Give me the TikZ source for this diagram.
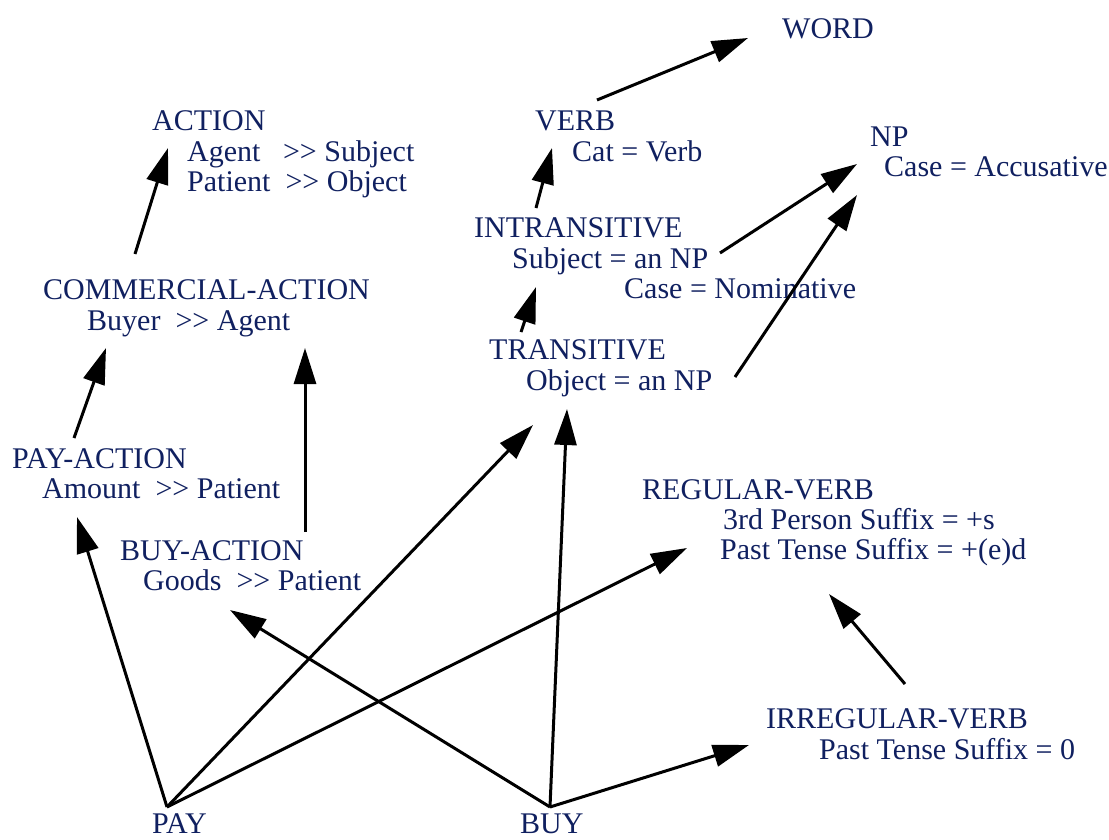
\documentclass[tikz,border=0pt]{standalone}
\usepackage{fontspec}
\setmainfont{Liberation Serif}
\usetikzlibrary{arrows.meta}
\definecolor{navy}{RGB}{16,32,96}
\begin{document}
\begin{tikzpicture}[x=1pt,y=-1pt,
  lbl/.style={anchor=base west,inner sep=0pt,text=navy,font=\fontsize{30}{30.5}\selectfont},
  link/.style={line width=3pt,-{Triangle[length=36pt,width=22pt]}}]
\useasboundingbox (0,0) rectangle (1109,839);
% concept labels
\node[lbl] (word) at (782,38) {WORD};
\node[lbl] (action) at (152,130) {ACTION};
\node[lbl] (action-a1) at (187,161) {Agent\ \ \ >{}> Subject};
\node[lbl] (action-a2) at (187,191) {Patient\ \ >{}> Object};
\node[lbl] (verb) at (535,130) {VERB};
\node[lbl] (verb-a1) at (572,161) {Cat = Verb};
\node[lbl] (np) at (870,146) {NP};
\node[lbl] (np-a1) at (884,176) {Case = Accusative};
\node[lbl] (intr) at (474,237) {INTRANSITIVE};
\node[lbl] (intr-a1) at (512,268) {Subject = an NP};
\node[lbl] (intr-a2) at (624,298) {Case = Nominative};
\node[lbl] (trans) at (489,359) {TRANSITIVE};
\node[lbl] (trans-a1) at (526,390) {Object = an NP};
\node[lbl] (comm) at (43,299) {COMMERCIAL-ACTION};
\node[lbl] (comm-a1) at (87,330) {Buyer\ \ >{}> Agent};
\node[lbl] (paya) at (12,468) {PAY-ACTION};
\node[lbl] (paya-a1) at (42,498) {Amount\ \ >{}> Patient};
\node[lbl] (buya) at (120,560) {BUY-ACTION};
\node[lbl] (buya-a1) at (143,590) {Goods\ \ >{}> Patient};
\node[lbl] (reg) at (642,499) {REGULAR-VERB};
\node[lbl] (reg-a1) at (723,529) {3rd Person Suffix = +s};
\node[lbl] (reg-a2) at (720,559) {Past Tense Suffix = +(e)d};
\node[lbl] (irr) at (766,728) {IRREGULAR-VERB};
\node[lbl] (irr-a1) at (819,759) {Past Tense Suffix = 0};
\node[lbl,text depth=0pt] (pay) at (152,833) {PAY};
\node[lbl,text depth=0pt] (buy) at (520,833) {BUY};
% connector end points
\coordinate (verb-out) at (597,100);
\coordinate (word-in) at (748,38);
\coordinate (comm-out) at (135,254);
\coordinate (action-in) at (168,148);
\coordinate (intr-out) at (536,208);
\coordinate (verb-in) at (552,148);
\coordinate (intr-np) at (720,253);
\coordinate (np-in1) at (857,164);
\coordinate (trans-out) at (521,332);
\coordinate (intr-in) at (536,287);
\coordinate (trans-np) at (735,377);
\coordinate (np-in2) at (857,195);
\coordinate (paya-out) at (74,438);
\coordinate (comm-in1) at (106,348);
\coordinate (buya-out) at (305,532);
\coordinate (comm-in2) at (305,348);
\coordinate (pay-top) at (167,807);
\coordinate (buy-top) at (550,807);
\coordinate (paya-in) at (77,517);
\coordinate (trans-in1) at (533,425);
\coordinate (reg-in1) at (687,548);
\coordinate (buya-in) at (230,610);
\coordinate (trans-in2) at (567,409);
\coordinate (irr-in) at (749,745);
\coordinate (irr-out) at (905,684);
\coordinate (reg-in2) at (829,594);
% connectors
\draw[link] (verb-out) -- (word-in);
\draw[link] (comm-out) -- (action-in);
\draw[link] (intr-out) -- (verb-in);
\draw[link] (intr-np) -- (np-in1);
\draw[link] (trans-out) -- (intr-in);
\draw[link] (trans-np) -- (np-in2);
\draw[link] (paya-out) -- (comm-in1);
\draw[link] (buya-out) -- (comm-in2);
\draw[link] (pay-top) -- (paya-in);
\draw[link] (pay-top) -- (trans-in1);
\draw[link] (pay-top) -- (reg-in1);
\draw[link] (buy-top) -- (buya-in);
\draw[link] (buy-top) -- (trans-in2);
\draw[link] (buy-top) -- (irr-in);
\draw[link] (irr-out) -- (reg-in2);
\end{tikzpicture}
\end{document}
